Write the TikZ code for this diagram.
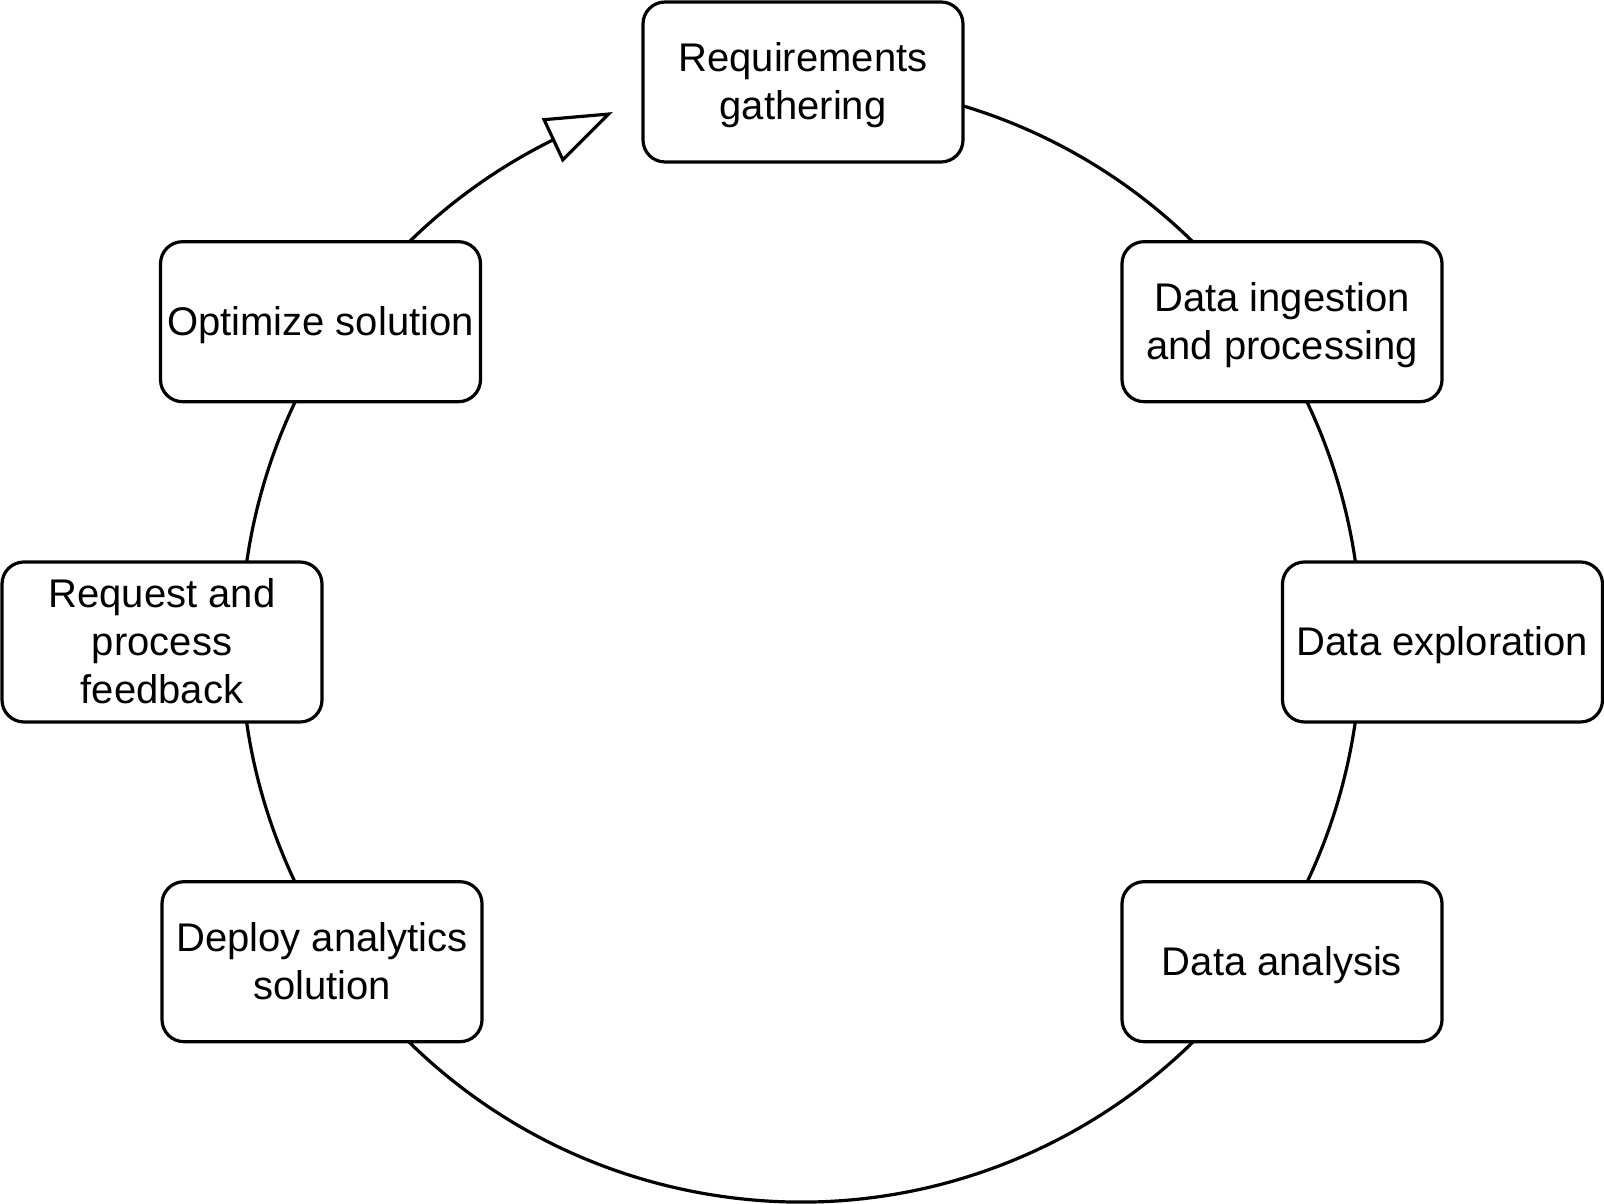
\documentclass[tikz,border=0pt]{standalone}
\usepackage{fontspec}
\setmainfont{Liberation Sans}
\usetikzlibrary{arrows.meta}
\newcommand\lnstr{\rule[-10.1pt]{0pt}{48pt}}
\begin{document}
\begin{tikzpicture}[x=1pt,y=1pt,
  stage/.style={draw, line width=3.2pt, rounded corners=22pt, minimum width=320pt,
    minimum height=160pt, inner sep=0pt, align=center, fill=white,
    font=\fontsize{40}{48}\selectfont},
  cyclearc/.style={line width=3.2pt, -{Triangle[open, length=67pt, width=48pt, fill=white]}}]
\useasboundingbox (0,0) rectangle (1604,1204);
\coordinate (c) at (801,562);
\draw[cyclearc] (c) ++(80:560) arc[start angle=80, end angle=-243.7, radius=560] -- ++(25:66) coordinate (tip);
\node[stage] (req) at (803,1122) {\lnstr Requirements\\\lnstr gathering};
\node[stage] (ing) at (1282,882.3) {\lnstr Data ingestion\\\lnstr and processing};
\node[stage] (exp) at (1442.5,562) {\lnstr Data exploration};
\node[stage] (ana) at (1282,242.3) {\lnstr Data analysis};
\node[stage] (dep) at (322,242.3) {\lnstr Deploy analytics\\\lnstr solution};
\node[stage] (fb) at (162,562) {\lnstr Request and\\\lnstr process\\\lnstr feedback};
\node[stage] (opt) at (320.5,882.3) {\lnstr Optimize solution};
\end{tikzpicture}
\end{document}
